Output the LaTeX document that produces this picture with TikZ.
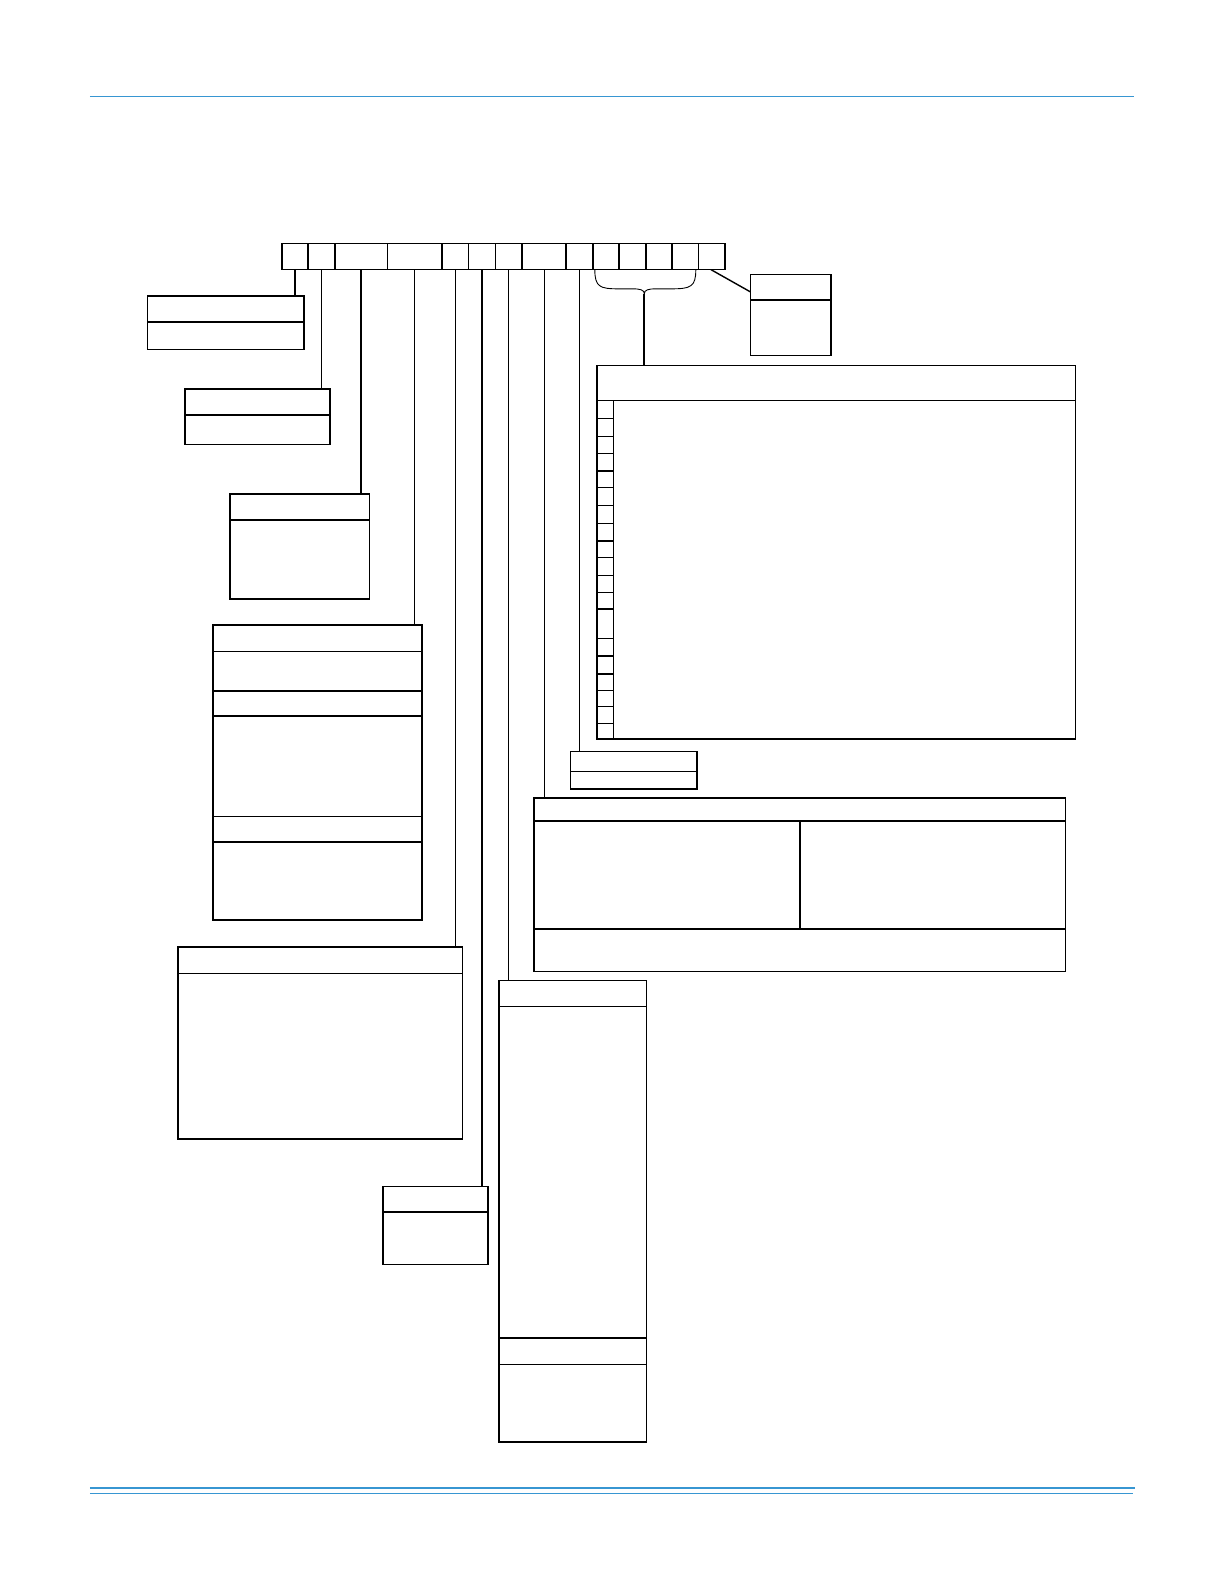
\documentclass[tikz,border=0pt]{standalone}
\usetikzlibrary{calc}
\definecolor{rulblue}{RGB}{55,150,210}
\begin{document}
\begin{tikzpicture}[x=1.0099pt,y=-1.0099pt,
  frame/.style={draw, line width=1.6pt, inner sep=0pt, outer sep=0pt, anchor=north west},
  lead/.style={line width=1.7pt},
  leadthin/.style={line width=0.8pt},
  rulethick/.style={line width=1.6pt},
  rulethin/.style={line width=0.9pt}]
\useasboundingbox (0,0) rectangle (1212.0,1568.5);
% page rules
\coordinate (tl) at (89,95.3); \coordinate (tr) at (1123,95.3);
\draw[rulblue, line width=1.3pt] (tl) -- (tr);
\coordinate (bl) at (89,1473.1); \coordinate (br) at (1123.9,1473.1);
\draw[rulblue, line width=2pt] (bl) -- (br);
\coordinate (bl2) at (89,1478.7); \coordinate (br2) at (1121.6,1478.7);
\draw[rulblue, line width=0.9pt] (bl2) -- (br2);
% code cells
\foreach \n/\x/\w in {c1/279/25.7, c2/304.7/27, c3/331.7/52.1, c4/383.8/53.9, c5/437.7/26.4, c6/464.1/26.4, c7/490.5/26.4, c8/516.9/43.6, c9/560.5/26.4, c10/586.9/26.3, c11/613.2/26.4, c12/639.6/25.8, c13/665.4/26.4, c14/691.8/26.2}
  \node[frame, minimum width=1.0099*\w pt, minimum height=1.0099*26pt] (\n) at (\x,241) {};
% boxes
\node[frame, minimum width=1.0099*155pt, minimum height=1.0099*53pt] (A) at (146,293) {};
\node[frame, minimum width=1.0099*144pt, minimum height=1.0099*55pt] (B) at (183,385) {};
\node[frame, minimum width=1.0099*138pt, minimum height=1.0099*104pt] (C) at (228,489) {};
\node[frame, minimum width=1.0099*207pt, minimum height=1.0099*292pt] (D) at (211,619) {};
\node[frame, minimum width=1.0099*282pt, minimum height=1.0099*190pt] (E) at (176,938) {};
\node[frame, minimum width=1.0099*104pt, minimum height=1.0099*77pt] (F) at (379,1175) {};
\node[frame, minimum width=1.0099*146pt, minimum height=1.0099*457pt] (G) at (494,971) {};
\node[frame, minimum width=1.0099*526pt, minimum height=1.0099*172pt] (H) at (529,790) {};
\node[frame, minimum width=1.0099*125pt, minimum height=1.0099*37pt] (I) at (565,744) {};
\node[frame, minimum width=1.0099*474pt, minimum height=1.0099*370pt] (J) at (591,362) {};
\node[frame, minimum width=1.0099*80pt, minimum height=1.0099*80pt] (K) at (743,272) {};
% dividers
\draw[rulethick] (A.west |- 0,319) -- (A.east |- 0,319);
\draw[rulethick] (B.west |- 0,411) -- (B.east |- 0,411);
\draw[rulethick] (C.west |- 0,515) -- (C.east |- 0,515);
\foreach \y in {645,684,709,834} \draw[rulethick] (D.west |- 0,\y) -- (D.east |- 0,\y);
\draw[rulethin] (D.west |- 0,808) -- (D.east |- 0,808);
\draw[rulethin] (E.west |- 0,964) -- (E.east |- 0,964);
\draw[rulethick] (F.west |- 0,1200) -- (F.east |- 0,1200);
\draw[rulethin] (G.west |- 0,997) -- (G.east |- 0,997);
\foreach \y in {1325,1351} \draw[rulethick] (G.west |- 0,\y) -- (G.east |- 0,\y);
\foreach \y in {813,920} \draw[rulethick] (H.west |- 0,\y) -- (H.east |- 0,\y);
\coordinate (hm) at (792,813);
\draw[rulethick] (hm) -- (hm |- 0,920);
\draw[rulethick] (I.west |- 0,764) -- (I.east |- 0,764);
\draw[rulethick] (K.west |- 0,297) -- (K.east |- 0,297);
% box J
\draw[rulethin] (J.west |- 0,397) -- (J.east |- 0,397);
\coordinate (jc) at (607,397);
\draw[rulethin] (jc) -- (jc |- J.south);
\foreach \y in {414.3,432.2,466.6,482.8,500.4,535.5,552.1,603.1,649.4,667.3,716.6}
  \draw[rulethick] (J.west |- 0,\y) -- (jc |- 0,\y);
\foreach \y in {449.4,517.9,570.3,586.5,632.2,683.5,699.4}
  \draw[rulethin] (J.west |- 0,\y) -- (jc |- 0,\y);
% leaders
\draw[lead] (c1.south) -- (c1.south |- A.north);
\draw[leadthin] (c2.south) -- (c2.south |- B.north);
\draw[lead] (c3.south) -- (c3.south |- C.north);
\draw[leadthin] (c4.south) -- (c4.south |- D.north);
\draw[lead] (c5.south) -- (c5.south |- E.north);
\draw[lead] (c6.south) -- (c6.south |- F.north);
\draw[leadthin] (c7.south) -- (c7.south |- G.north);
\draw[leadthin] (c8.south) -- (c8.south |- H.north);
\draw[lead] (c9.south) -- (c9.south |- I.north);
% brace
\coordinate (bt) at (638,291);
\draw[line width=0.9pt] (589,267) .. controls (589,284) and (594,286) .. (612,286)
  -- (626,286) .. controls (634,286) and (638,287) .. (bt)
  .. controls (638,287) and (642,286) .. (650,286)
  -- (665,286) .. controls (684,286) and (689,284) .. (689,267);
\draw[lead] (bt) -- (bt |- J.north);
\coordinate (dg) at (704,267);
\draw[line width=1.4pt] (dg) -- (K.west |- 0,289);
\end{tikzpicture}
\end{document}
